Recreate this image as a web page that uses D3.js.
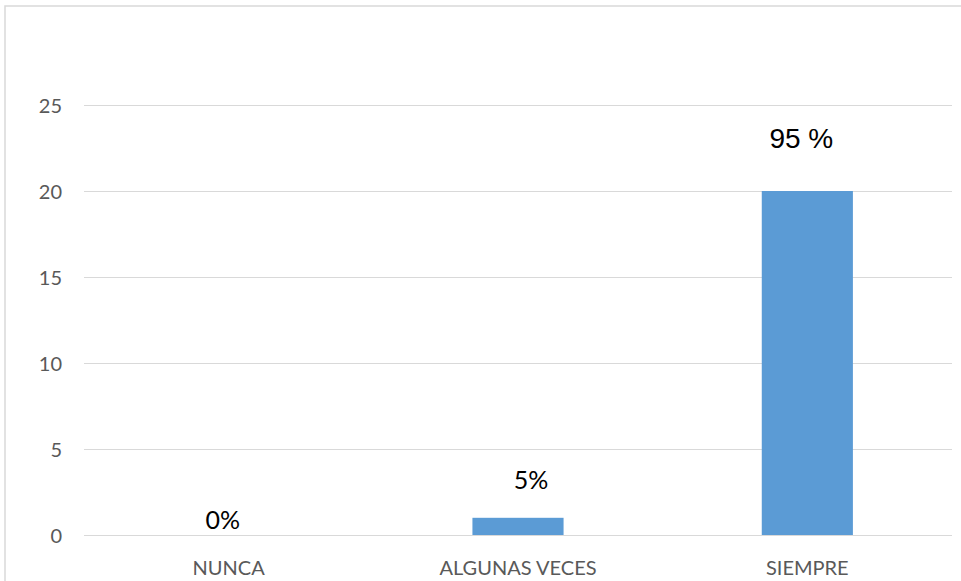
<!DOCTYPE html>
<html>
<head>
<meta charset="utf-8">
<script src="https://cdn.jsdelivr.net/npm/d3@7"></script>
<style>
  html, body { margin: 0; padding: 0; background: #fff; }
  svg { display: block; }
</style>
</head>
<body>
<svg id="chart" width="961" height="581"></svg>
<script>
// ---- data ----
const categories = ["NUNCA", "ALGUNAS VECES", "SIEMPRE"];
const values = [0, 1, 20];
const valueLabels = ["0%", "5%", "95 %"];
const yTicks = [0, 5, 10, 15, 20, 25];

// ---- layout / style ----
const W = 961, H = 581;
const plot = { left: 84, right: 952, top: 105, bottom: 535 };
const labelDx = [-6, 13, -6];
const labelDy = [-6, -29, -43];
const labelFont = ["Lato", "Lato", "Liberation Sans, Arial"];
const labelSize = [25, 25, 28];

const svg = d3.select("#chart");

// chart border
svg.append("rect")
  .attr("x", 5).attr("y", 6)
  .attr("width", 1200).attr("height", 1200)
  .attr("fill", "none")
  .attr("stroke", "#d9d9d9")
  .attr("stroke-width", 1.5);

const x = d3.scaleBand()
  .domain(categories)
  .range([plot.left, plot.right])
  .paddingInner(0.685)
  .paddingOuter(0.3425);

const y = d3.scaleLinear()
  .domain([0, 25])
  .range([plot.bottom, plot.top]);

// gridlines + y labels via axis
const yAxis = d3.axisLeft(y)
  .tickValues(yTicks)
  .tickSize(-(plot.right - plot.left))
  .tickPadding(22)
  .tickFormat(d3.format("d"));

const gy = svg.append("g")
  .attr("transform", `translate(${plot.left},0)`)
  .call(yAxis);
gy.select(".domain").remove();
gy.selectAll(".tick line").attr("stroke", "#d9d9d9").attr("stroke-width", 1);
gy.selectAll(".tick text")
  .attr("fill", "#595959")
  .attr("font-family", "Lato, sans-serif")
  .attr("font-size", 20)
  .attr("dy", "0.36em");

// bars
svg.append("g").selectAll("rect")
  .data(values)
  .join("rect")
  .attr("x", (d, i) => x(categories[i]))
  .attr("width", x.bandwidth())
  .attr("y", d => y(d))
  .attr("height", d => y(0) - y(d))
  .attr("fill", "#5b9bd5");

// x axis labels
const xAxis = d3.axisBottom(x).tickSize(0).tickPadding(26);
const gx = svg.append("g")
  .attr("transform", `translate(0,${plot.bottom})`)
  .call(xAxis);
gx.select(".domain").remove();
gx.selectAll(".tick text")
  .attr("fill", "#595959")
  .attr("font-family", "Lato, sans-serif")
  .attr("font-size", 20);

// value labels
svg.append("g").selectAll("text")
  .data(values)
  .join("text")
  .attr("x", (d, i) => x(categories[i]) + x.bandwidth() / 2 + labelDx[i])
  .attr("y", (d, i) => y(d) + labelDy[i])
  .attr("text-anchor", "middle")
  .attr("font-family", (d, i) => labelFont[i])
  .attr("font-size", (d, i) => labelSize[i])
  .attr("fill", "#000")
  .text((d, i) => valueLabels[i]);
</script>
</body>
</html>
